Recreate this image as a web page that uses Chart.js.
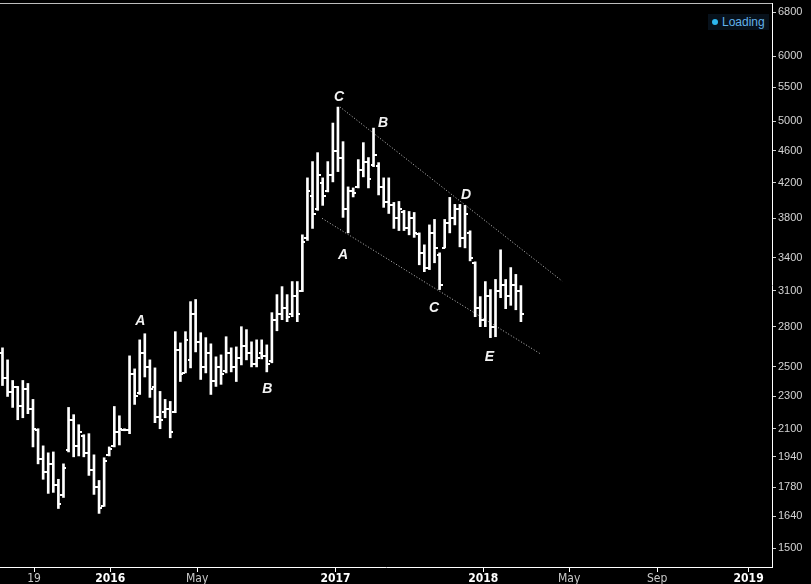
<!DOCTYPE html>
<html lang="en">
<head>
<meta charset="UTF-8">
<title>Weekly bars</title>
<script src="https://cdn.jsdelivr.net/npm/chart.js@4.4.1/dist/chart.umd.min.js"></script>
<style>
    html, body { margin: 0; padding: 0; background: #000; }
    #wrap { position: relative; width: 811px; height: 584px; }
    #loading { position: absolute; left: 708px; top: 14px; padding: 1px 4px 1px 4px; background: #07111b;
        font: 12px Arial, "Liberation Sans", sans-serif; color: #62b2ea; }
    #loading i { display: inline-block; width: 6px; height: 6px; border-radius: 3px; background: #2db7ef;
        margin-right: 4px; vertical-align: 1px; }
</style>
</head>
<body>
<div id="wrap">
    <canvas id="myChart" width="811" height="584"></canvas>
    <div id="loading"><i></i>Loading</div>
</div>
<script>
    // weekly OHLC
    const opens = [2600,2420,2330,2360,2240,2350,2220,2090,1930,1860,
        1900,1790,1740,1980,2150,2000,2060,1960,1870,1780,
        1690,1950,2000,2080,2095,2090,2450,2320,2600,2500,
        2360,2170,2200,2220,2200,2620,2460,2550,2900,2680,
        2500,2600,2400,2500,2470,2600,2500,2560,2650,2600,
        2520,2600,2580,2540,2850,2900,2950,2900,3050,3100,
        3600,4050,3900,4200,4100,4300,4600,4500,3900,4100,
        4150,4350,4450,4420,4400,4150,3980,3950,3800,3870,
        3700,3800,3640,3450,3300,3650,3430,3500,3750,3800,
        3900,3600,3650,3350,2950,2850,3050,2800,3100,3150,
        3050,3150,3100]
    const highs = [2638,2550,2406,2366,2406,2386,2281,2100,2001,1962,
        1967,1821,1902,2230,2185,2124,2065,2071,1951,1815,
        1935,1995,2236,2178,2100,2579,2486,2698,2745,2550,
        2493,2333,2281,2268,2761,2675,2761,3005,3023,2753,
        2715,2668,2572,2586,2722,2638,2645,2800,2777,2683,
        2698,2698,2660,2913,3065,3135,3065,3180,3180,3628,
        4260,4460,4574,4260,4460,4972,5201,4718,4153,4141,
        4485,4705,4511,4902,4447,4260,4260,3975,3986,3887,
        3875,3864,3648,3527,3731,3789,3448,3789,4032,3953,
        3953,3942,3669,3362,3048,3180,3109,3199,3478,3199,
        3308,3245,3144]
    const lows = [2372,2300,2230,2154,2166,2191,1995,1902,1821,1750,
        1755,1677,1730,1967,1940,1945,1940,1841,1745,1654,
        1687,1945,1995,2006,2088,2071,2249,2313,2430,2294,
        2136,2100,2166,2047,2197,2399,2458,2493,2608,2413,
        2458,2313,2366,2380,2458,2465,2399,2514,2550,2500,
        2500,2557,2465,2529,2768,2856,2840,2880,2840,3091,
        3571,3694,3887,3942,4095,4212,4336,3811,3648,4037,
        4141,4272,4141,4397,4060,3920,3853,3694,3672,3672,
        3628,3602,3334,3270,3289,3353,3109,3497,3648,3731,
        3507,3497,3371,2880,2800,2800,2715,2722,3039,2946,
        2974,2937,2840]
    const closes = [2420,2330,2360,2240,2350,2220,2100,1930,1860,1900,
        1790,1700,1880,2150,2000,2080,1960,1870,1780,1680,
        1920,1985,2080,2100,2095,2450,2300,2600,2500,2350,
        2170,2150,2220,2080,2620,2450,2700,2900,2680,2500,
        2600,2400,2500,2450,2600,2500,2560,2650,2600,2520,
        2560,2580,2520,2850,2900,2950,2880,3050,2900,3560,
        4100,3850,4300,4050,4300,4600,4500,3900,4100,4080,
        4350,4450,4250,4550,4150,3980,3950,3800,3900,3700,
        3800,3650,3450,3300,3650,3500,3150,3750,3800,3900,
        3600,3850,3400,2950,2850,3050,2800,3100,3150,3050,
        3150,3100,2900]

    // axis ticks (x in bar-index units)
    const xTickPos = [6.2, 21.2, 38.3, 65.5, 94.6, 111.5, 128.8, 146.8]
    const xTickLabels = ['19', '2016', 'May', '2017', '2018', 'May', 'Sep', '2019']
    const yTicks = [1500, 1640, 1780, 1940, 2100, 2300, 2500, 2800, 3100, 3400, 3800, 4200, 4600, 5000, 5500, 6000, 6800]

    // channel lines and wave letters
    const upperX = [66.4, 110.1]
    const upperY = [5203, 3185]
    const lowerX = [62.9, 106.0]
    const lowerY = [3800, 2590]
    const waveText = ['A', 'B', 'C', 'A', 'B', 'C', 'D', 'E']
    const waveX = [27.1, 52.1, 66.2, 67.0, 74.9, 84.9, 91.2, 95.8]
    const waveY = [2845, 2348, 5352, 3426, 4973, 2951, 4056, 2568]

    const blackBg = {
        id: 'blackBg',
        beforeDraw(chart) {
            const c = chart.ctx
            c.save()
            c.fillStyle = '#000'
            c.fillRect(0, 0, chart.width, chart.height)
            c.restore()
        },
        afterDraw(chart) {
            const c = chart.ctx, a = chart.chartArea
            c.save()
            c.strokeStyle = '#bdbdbd'
            c.lineWidth = 1
            c.beginPath()
            c.moveTo(0, a.top + 0.5)
            c.lineTo(a.right, a.top + 0.5)
            c.stroke()
            c.restore()
        }
    }

    const ohlcTicks = {
        id: 'ohlcTicks',
        afterDatasetsDraw(chart) {
            const xs = chart.scales.x, ys = chart.scales.y, c = chart.ctx
            c.save()
            c.strokeStyle = '#fff'
            c.lineWidth = 2
            c.beginPath()
            opens.forEach((o, i) => {
                const px = Math.round(xs.getPixelForValue(i))
                const yo = Math.round(ys.getPixelForValue(o))
                const yc = Math.round(ys.getPixelForValue(closes[i]))
                c.moveTo(px - 3, yo)
                c.lineTo(px, yo)
                c.moveTo(px, yc)
                c.lineTo(px + 3, yc)
            })
            c.stroke()
            c.restore()
        }
    }

    const waveLetters = {
        id: 'waveLetters',
        afterDatasetsDraw(chart) {
            const xs = chart.scales.x, ys = chart.scales.y, c = chart.ctx
            c.save()
            c.fillStyle = '#f2f2f2'
            c.font = 'italic bold 14px Arial, "Liberation Sans", sans-serif'
            c.textAlign = 'center'
            c.textBaseline = 'middle'
            waveText.forEach((t, i) => {
                c.fillText(t, xs.getPixelForValue(waveX[i]), ys.getPixelForValue(waveY[i]))
            })
            c.restore()
        }
    }

    const isYear = i => /^\d{4}$/.test(xTickLabels[i] || '')

    const ctx = document.getElementById('myChart')
    const chart = new Chart(ctx, {
        type: 'bar',
        data: {
            datasets: [{
                label: 'range',
                data: highs.map((h, i) => ({ x: i, y: [lows[i], h] })),
                backgroundColor: '#fff',
                borderWidth: 0,
                barThickness: 2
            }, {
                type: 'line',
                label: 'upper',
                data: upperX.map((x, i) => ({ x: x, y: upperY[i] })),
                borderColor: '#c4c4c4',
                borderWidth: 1,
                borderDash: [1, 2],
                pointRadius: 0
            }, {
                type: 'line',
                label: 'lower',
                data: lowerX.map((x, i) => ({ x: x, y: lowerY[i] })),
                borderColor: '#c4c4c4',
                borderWidth: 1,
                borderDash: [1, 2],
                pointRadius: 0
            }]
        },
        options: {
            responsive: false,
            animation: false,
            layout: { padding: { top: 3, left: 0, right: 0, bottom: 0 } },
            plugins: { legend: { display: false }, tooltip: { enabled: false } },
            scales: {
                x: {
                    type: 'linear',
                    min: -0.49,
                    max: 151.4,
                    offset: false,
                    afterBuildTicks: s => { s.ticks = xTickPos.map(v => ({ value: v })) },
                    afterFit: s => { s.height = 17; s.paddingLeft = 0; s.paddingRight = 0 },
                    grid: { drawOnChartArea: false, color: '#fff', tickLength: 5, offset: false },
                    border: { color: '#fff', width: 1 },
                    ticks: {
                        autoSkip: false,
                        maxRotation: 0,
                        padding: 0,
                        callback: (v, i) => xTickLabels[i],
                        color: c => isYear(c.index) ? '#fff' : '#c8c8c8',
                        font: c => ({
                            family: '"Liberation Sans Narrow", "DejaVu Sans Condensed", Arial, sans-serif',
                            size: 12,
                            weight: isYear(c.index) ? 'bold' : 'normal'
                        })
                    }
                },
                y: {
                    type: 'logarithmic',
                    position: 'right',
                    min: 1422,
                    max: 6975,
                    afterBuildTicks: s => { s.ticks = yTicks.map(v => ({ value: v })) },
                    afterFit: s => { s.width = 39; s.paddingTop = 0; s.paddingBottom = 0 },
                    grid: { drawOnChartArea: false, color: '#cfcfcf', tickLength: 4 },
                    border: { color: '#fff', width: 1 },
                    ticks: {
                        padding: 2,
                        color: '#d4d4d4',
                        font: { family: 'Arial, "Liberation Sans", sans-serif', size: 11 },
                        callback: v => String(v)
                    }
                }
            }
        },
        plugins: [blackBg, ohlcTicks, waveLetters]
    })
</script>
</body>
</html>
